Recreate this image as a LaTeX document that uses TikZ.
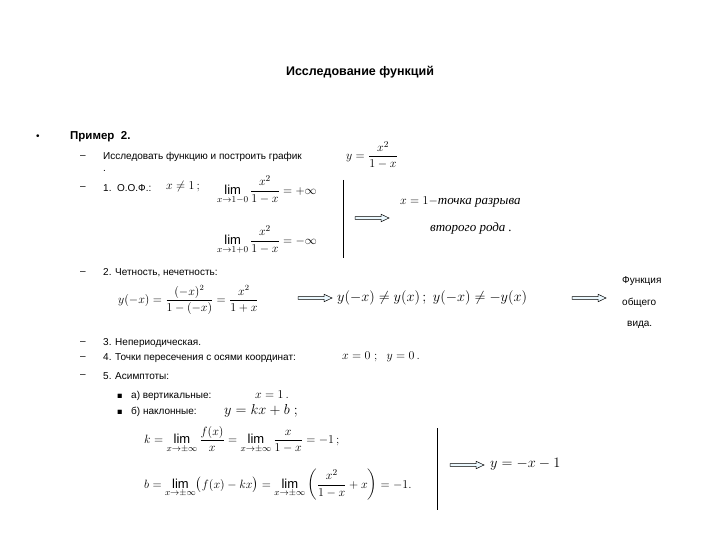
\documentclass[tikz,border=0pt]{standalone}
\usepackage{amsmath,amssymb}
\usepackage{fontspec}
\setmainfont{Liberation Sans}
\begin{document}
\begin{tikzpicture}[x=1pt,y=-1pt,
  txt/.style={anchor=west,inner sep=0pt,font=\fontsize{10}{12}\selectfont},
  mth/.style={anchor=west,inner sep=0pt,font=\fontsize{13}{15}\selectfont},
  harr/.pic={\draw[fill=cyan!8,line width=0.5pt] (0,-1.3)--(26,-1.3)--(26,-3.8)--(34,0)--(26,3.8)--(26,1.3)--(0,1.3)--cycle;}]
\useasboundingbox (0,0) rectangle (720,540);
\node[inner sep=0pt,font=\bfseries\fontsize{12.5}{14}\selectfont] (title) at (360,72) {Исследование функций};
\node[txt] (b1) at (36,137) {\textbullet};
\node[txt,font=\bfseries\fontsize{11.5}{13}\selectfont] (ex) at (70,137) {Пример\ \ 2.};
% line 1
\node[txt] (d1) at (80,157) {--};
\node[txt] (t1) at (103,157) {Исследовать функцию и построить график};
\node[mth] (f1) at (346,155) {$y=\dfrac{x^2}{1-x}$};
\node[txt] (dot) at (103,171) {.};
% line 2
\node[txt] (d2) at (80,188) {--};
\node[txt] (t2) at (103,188) {1.\ \ О.О.Ф.:};
\node[mth] (m2) at (166,187) {$x\neq 1\,;$};
\node[mth] (l1) at (217,190) {$\lim\limits_{x\to1-0}\dfrac{x^2}{1-x}=+\infty$};
\node[mth] (l2) at (217,240) {$\lim\limits_{x\to1+0}\dfrac{x^2}{1-x}=-\infty$};
\draw[line width=0.6pt] (343,180) -- (343,258);
\pic at (355,218) {harr};
\node[mth] (r1) at (400,202) {$x=1-$\textit{\fontspec{Liberation Serif}точка разрыва}};
\node[mth] (r2) at (430,228) {\textit{\fontspec{Liberation Serif}второго рода .}};
% parity
\node[txt] (d3) at (80,273) {--};
\node[txt] (t3) at (103,273) {2. Четность, нечетность:};
\node[mth,font=\fontsize{12}{14}\selectfont] (p1) at (118,300) {$y(-x)=\dfrac{(-x)^2}{1-(-x)}=\dfrac{x^2}{1+x}$};
\pic at (298,298) {harr};
\node[mth,font=\fontsize{15}{17}\selectfont] (p2) at (337,298) {$y(-x)\neq y(x)\,;\ y(-x)\neq -y(x)$};
\pic at (572,298) {harr};
\node[txt] (fn1) at (622,281) {Функция};
\node[txt] (fn2) at (622,303) {общего};
\node[txt] (fn3) at (627,325) {вида.};
% 3,4,5
\node[txt] (d4) at (80,343) {--};
\node[txt] (t4) at (103,343) {3. Непериодическая.};
\node[txt] (d5) at (80,358) {--};
\node[txt] (t5) at (103,358) {4. Точки пересечения с осями координат:};
\node[mth] (m5) at (342,357) {$x=0\ ;\ \ y=0\,.$};
\node[txt] (d6) at (80,376) {--};
\node[txt] (t6) at (103,376) {5. Асимптоты:};
\node[txt,font=\fontsize{5}{6}\selectfont] (s1) at (117,396) {$\blacksquare$};
\node[txt] (t7) at (131,396) {а) вертикальные:};
\node[mth] (m7) at (255,395) {$x=1\,.$};
\node[txt,font=\fontsize{5}{6}\selectfont] (s2) at (117,412) {$\blacksquare$};
\node[txt] (t8) at (131,412) {б) наклонные:};
\node[mth,font=\fontsize{15}{17}\selectfont] (m8) at (224,411) {$y=kx+b\ ;$};
\node[mth] (k) at (144,440) {$k=\lim\limits_{x\to\pm\infty}\dfrac{f(x)}{x}=\lim\limits_{x\to\pm\infty}\dfrac{x}{1-x}=-1\,;$};
\node[mth] (b) at (144,485) {$b=\lim\limits_{x\to\pm\infty}\bigl(f(x)-kx\bigr)=\lim\limits_{x\to\pm\infty}\left(\dfrac{x^2}{1-x}+x\right)=-1.$};
\draw[line width=0.6pt] (437,428) -- (437,510);
\pic at (450,465) {harr};
\node[mth,font=\fontsize{15}{17}\selectfont] (res) at (490,464) {$y=-x-1$};
\end{tikzpicture}
\end{document}
